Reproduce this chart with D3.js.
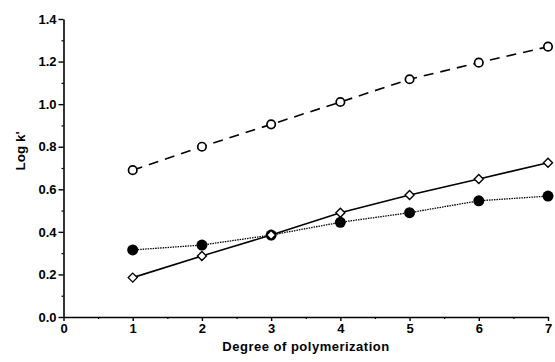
<!DOCTYPE html>
<html>
<head>
<meta charset="utf-8">
<script src="https://cdn.jsdelivr.net/npm/d3@7"></script>
<style>
  body { margin: 0; background: #fff; }
  svg { display: block; font-family: Arial, "Liberation Sans", sans-serif; }
</style>
</head>
<body>
<svg id="chart" width="555" height="362"></svg>
<script>
// degree of polymerization
const dp = [1, 2, 3, 4, 5, 6, 7];
// log k' values
const openCircle = [0.69, 0.80, 0.905, 1.01, 1.117, 1.195, 1.27];
const diamond = [0.185, 0.287, 0.385, 0.49, 0.573, 0.648, 0.725];
const filledCircle = [0.315, 0.338, 0.385, 0.445, 0.49, 0.546, 0.568];

const xTicks = [0, 1, 2, 3, 4, 5, 6, 7];
const yTicks = [0, 0.2, 0.4, 0.6, 0.8, 1.0, 1.2, 1.4];

const width = 555, height = 362;
const margin = { top: 19, right: 7, bottom: 45, left: 63.5 };

const svg = d3.select("#chart");

const x = d3.scaleLinear().domain([0, 7]).range([margin.left, width - margin.right]);
const y = d3.scaleLinear().domain([0, 1.4]).range([height - margin.bottom, margin.top]);

// minor ticks
svg.append("g")
  .attr("transform", `translate(0,${y(0)})`)
  .call(d3.axisBottom(x).tickValues(d3.range(0.5, 7, 1)).tickSize(2).tickFormat(""))
  .call(g => g.select(".domain").remove())
  .selectAll("line").attr("stroke-width", 1.2);

svg.append("g")
  .attr("transform", `translate(${x(0)},0)`)
  .call(d3.axisLeft(y).tickValues(d3.range(0.1, 1.4, 0.2)).tickSize(2).tickFormat(""))
  .call(g => g.select(".domain").remove())
  .selectAll("line").attr("stroke-width", 1.2);

// major axes
const xAxis = svg.append("g")
  .attr("transform", `translate(0,${y(0)})`)
  .call(d3.axisBottom(x).tickValues(xTicks).tickSize(4).tickSizeOuter(0).tickPadding(3).tickFormat(d3.format("d")));
xAxis.select(".domain").attr("stroke-width", 1.6);
xAxis.selectAll("line").attr("stroke-width", 1.4);
xAxis.selectAll("text").attr("font-size", 13).attr("font-weight", "bold").attr("fill", "#000");

const yAxis = svg.append("g")
  .attr("transform", `translate(${x(0)},0)`)
  .call(d3.axisLeft(y).tickValues(yTicks).tickSize(5).tickSizeOuter(0).tickPadding(2).tickFormat(d3.format(".1f")));
yAxis.select(".domain").attr("stroke-width", 1.6);
yAxis.selectAll("line").attr("stroke-width", 1.4);
yAxis.selectAll("text").attr("font-size", 13).attr("font-weight", "bold").attr("fill", "#000");

// axis titles
svg.append("text")
  .attr("x", 306)
  .attr("y", 351)
  .attr("text-anchor", "middle")
  .attr("font-size", 13)
  .attr("letter-spacing", 0.5)
  .attr("font-weight", "bold")
  .text("Degree of polymerization");

svg.append("text")
  .attr("transform", `translate(25,151) rotate(-90)`)
  .attr("text-anchor", "middle")
  .attr("font-size", 13.5)
  .attr("font-weight", "bold")
  .text("Log  k'");

const line = d3.line().x(d => x(d[0])).y(d => y(d[1]));

function series(values, dash, width) {
  svg.append("path")
    .datum(dp.map((d, i) => [d, values[i]]))
    .attr("fill", "none")
    .attr("stroke", "#000")
    .attr("stroke-width", width)
    .attr("stroke-dasharray", dash)
    .attr("d", line);
}

series(filledCircle, "1.5,1", 1.3);
series(diamond, null, 1.6);
series(openCircle, "10,7", 1.6);

// markers
svg.append("g").selectAll("circle")
  .data(dp)
  .join("circle")
  .attr("cx", d => x(d))
  .attr("cy", (d, i) => y(filledCircle[i]))
  .attr("r", 5.5)
  .attr("fill", "#000");

svg.append("g").selectAll("path")
  .data(dp)
  .join("path")
  .attr("transform", (d, i) => `translate(${x(d)},${y(diamond[i])})`)
  .attr("d", "M0,-4.5L4.5,0L0,4.5L-4.5,0Z")
  .attr("fill", "#fff")
  .attr("stroke", "#000")
  .attr("stroke-width", 1.4);

svg.append("g").selectAll("circle")
  .data(dp)
  .join("circle")
  .attr("cx", d => x(d))
  .attr("cy", (d, i) => y(openCircle[i]))
  .attr("r", 4.2)
  .attr("fill", "#fff")
  .attr("stroke", "#000")
  .attr("stroke-width", 1.7);
</script>
</body>
</html>
